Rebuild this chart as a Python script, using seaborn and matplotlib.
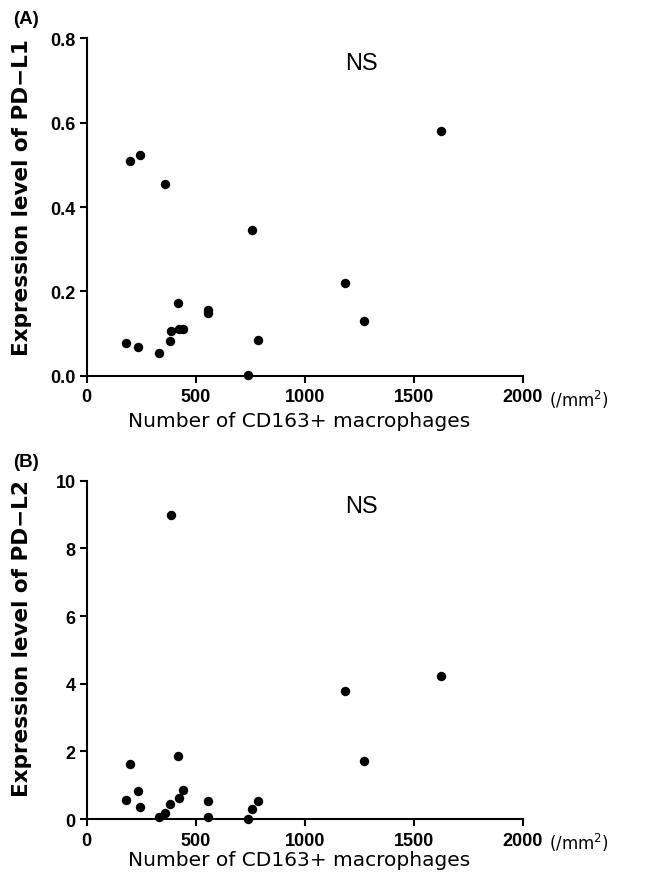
import matplotlib
matplotlib.use("Agg")
import matplotlib.pyplot as plt
import seaborn as sns
import pandas as pd

# ---- data ----
cd163 = [182, 199, 234, 243, 332, 357, 382, 387, 419, 422, 440, 556, 556,
         738, 759, 787, 1184, 1271, 1627]
pd_l1 = [0.077, 0.510, 0.068, 0.522, 0.055, 0.455, 0.082, 0.106, 0.173, 0.111,
         0.112, 0.157, 0.149, 0.002, 0.346, 0.085, 0.220, 0.130, 0.579]
pd_l2 = [0.56, 1.64, 0.82, 0.37, 0.05, 0.17, 0.43, 8.98, 1.86, 0.63,
         0.86, 0.54, 0.07, 0.01, 0.29, 0.54, 3.78, 1.72, 4.22]
x_ticks = [0, 500, 1000, 1500, 2000]
l1_ticks = [0.0, 0.2, 0.4, 0.6, 0.8]
l1_tick_labels = ["0.0", "0.2", "0.4", "0.6", "0.8"]
l2_ticks = [0, 2, 4, 6, 8, 10]
panel_labels = ["(A)", "(B)"]
y_labels = ["Expression level of PD\u2212L1", "Expression level of PD\u2212L2"]
x_label = "Number of CD163+ macrophages"
unit_label = "(/mm$^2$)"
sig_label = "NS"

df = pd.DataFrame({"x": cd163, "l1": pd_l1, "l2": pd_l2})

sns.set_style("ticks")
plt.rcParams["font.family"] = ["Liberation Sans", "DejaVu Sans"]
for k in ["text.color", "axes.labelcolor", "xtick.color", "ytick.color",
          "axes.edgecolor"]:
    plt.rcParams[k] = "black"

tick_family = ["Liberation Sans Narrow", "Liberation Sans", "DejaVu Sans"]

fig = plt.figure(figsize=(6.49, 8.87), dpi=100)
axA = fig.add_axes([0.1336, 0.575, 0.6718, 0.381])
axB = fig.add_axes([0.1336, 0.0755, 0.6718, 0.3814])

specs = [
    (axA, "l1", l1_ticks, l1_tick_labels, 0.8, 0.742, 0.978, 0.53, -0.105),
    (axB, "l2", l2_ticks, [str(t) for t in l2_ticks], 10, 9.26, 0.479, 0.537, -0.092),
]

for i, (ax, col, yt, ytl, ymax, ns_y, lab_y, ylab_pos, xlab_pos) in enumerate(specs):
    sns.scatterplot(data=df, x="x", y=col, ax=ax, color="black", s=46,
                    edgecolor="black", linewidth=0, legend=False, clip_on=False,
                    zorder=3)
    ax.set_xlim(0, 2000)
    ax.set_ylim(0, ymax)
    ax.set_xticks(x_ticks)
    ax.set_xticklabels([str(t) for t in x_ticks], fontweight="bold", fontsize=13,
                       family=tick_family)
    ax.set_yticks(yt)
    ax.set_yticklabels(ytl, fontweight="bold", fontsize=13, family=tick_family)
    sns.despine(ax=ax)
    for s in ["left", "bottom"]:
        ax.spines[s].set_linewidth(1.5)
        ax.spines[s].set_color("black")
    ax.tick_params(axis="y", direction="out", length=5, width=1.5, pad=3)
    ax.tick_params(axis="x", direction="out", length=5, width=1.5, pad=4)
    ax.set_ylabel(y_labels[i], fontsize=15.5, fontweight="bold",
                  family=["DejaVu Sans"])
    ax.yaxis.set_label_coords(-0.125, ylab_pos)
    ax.set_xlabel(x_label, fontsize=14.5, family=["DejaVu Sans"])
    ax.xaxis.set_label_coords(0.488, xlab_pos)
    ax.text(1260, ns_y, sig_label, fontsize=17, ha="center", va="center")
    ax.text(1.06, -0.068, unit_label, transform=ax.transAxes, fontsize=12,
            family=["DejaVu Sans"], ha="left", va="center")
    fig.text(0.02, lab_y, panel_labels[i], fontsize=13.5, fontweight="bold",
             ha="left", va="center")

fig.savefig("out.png", dpi=100, facecolor="white")
